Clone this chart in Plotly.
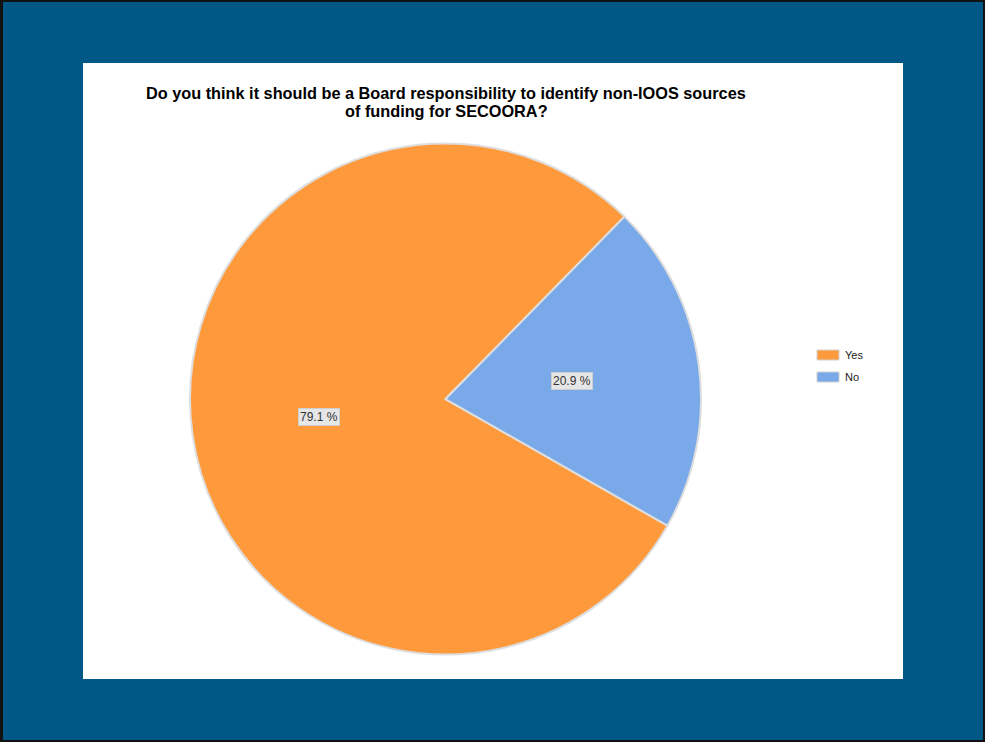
import math
import plotly.graph_objects as go

# ---- data ----
labels = ["Yes", "No"]
values = [79.1, 20.9]
colors = ["#FF9A3C", "#79A9E9"]
title_lines = ["Do you think it should be a Board responsibility to identify non-IOOS sources",
               "of funding for SECOORA?"]

W, H = 985, 742
ML, MR, MT, MB = 83, 82, 63, 63
PW, PH = W - ML - MR, H - MT - MB

# pie domain (paper coords)
dom_x = [0.1305, 0.7537]
dom_y = [0.039, 0.870]
rotation = 119.7

fig = go.Figure(go.Pie(
    labels=labels, values=values, sort=False, direction="clockwise",
    rotation=rotation,
    marker=dict(colors=colors, line=dict(color="#dedede", width=2)),
    textinfo="none", hoverinfo="label+percent", showlegend=False,
    domain=dict(x=dom_x, y=dom_y),
))

def px_x(p):
    return (p - ML) / PW

def px_y(p):
    return (H - MB - p) / PH

shapes = [
    # blue frame inside black outline
    dict(type="rect", xref="paper", yref="paper", layer="below",
         x0=px_x(3), x1=px_x(983), y0=px_y(740), y1=px_y(2),
         fillcolor="#005886", line=dict(width=0)),
    # white panel
    dict(type="rect", xref="paper", yref="paper", layer="below",
         x0=0, x1=1, y0=0, y1=1, fillcolor="white", line=dict(width=0)),
]

annotations = []
# title (two lines, tight spacing)
for i, line in enumerate(title_lines):
    annotations.append(dict(
        x=px_x(446), y=px_y(93 + 18 * i), xref="paper", yref="paper", showarrow=False,
        text="<b>" + line + "</b>",
        font=dict(family="Liberation Sans, Arial", size=16.3, color="black"),
        xanchor="center", yanchor="middle",
    ))

# slice labels computed from the data
total = sum(values)
cx = (dom_x[0] + dom_x[1]) / 2
cy = (dom_y[0] + dom_y[1]) / 2
r_px = min((dom_x[1] - dom_x[0]) * PW, (dom_y[1] - dom_y[0]) * PH) / 2
ang = rotation
for lab, v in zip(labels, values):
    span = v / total * 360
    mid = math.radians(ang + span / 2)
    ang += span
    dx = 0.5 * r_px * math.sin(mid)
    dy = 0.5 * r_px * math.cos(mid)
    annotations.append(dict(
        x=cx + dx / PW, y=cy + dy / PH, xref="paper", yref="paper",
        showarrow=False, text=f"{v:.1f} %",
        font=dict(family="Liberation Sans, Arial", size=12, color="#333333"),
        bgcolor="#e6e6e6", bordercolor="#cfcfcf", borderwidth=1, borderpad=1,
        xanchor="center", yanchor="middle",
    ))

# legend (manual, to match the boxy legend keys)
for i, (lab, col) in enumerate(zip(labels, colors)):
    yc = 355 + 22 * i
    shapes.append(dict(type="rect", xref="paper", yref="paper",
                       x0=px_x(817), x1=px_x(839), y0=px_y(yc + 5), y1=px_y(yc - 5),
                       fillcolor=col, line=dict(color="#d0d0d0", width=1)))
    annotations.append(dict(
        x=px_x(843), y=px_y(yc), xref="paper", yref="paper", showarrow=False,
        text=lab, xanchor="left", yanchor="middle",
        font=dict(family="Liberation Sans, Arial", size=11, color="#222222"),
    ))

fig.update_layout(
    width=W, height=H, autosize=False,
    margin=dict(l=ML, r=MR, t=MT, b=MB),
    paper_bgcolor="#111111", plot_bgcolor="white",
    shapes=shapes, annotations=annotations, showlegend=False,
)

fig.write_html("out.html", config={"displayModeBar": False},
               post_script="document.body.style.margin='0';document.body.style.overflow='hidden';")
